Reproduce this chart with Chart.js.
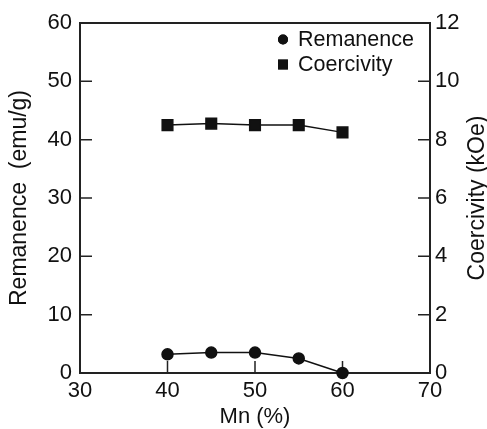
<!DOCTYPE html>
<html>
<head>
<meta charset="utf-8">
<script src="https://cdn.jsdelivr.net/npm/chart.js@4"></script>
<style>
  html, body { margin: 0; padding: 0; background: #fff; }
  #wrap { width: 487px; height: 429px; }
</style>
</head>
<body>
<div id="wrap"><canvas id="chart"></canvas></div>
<script>
// valeurs
const mnPercent = [40, 45, 50, 55, 60];
const remanence = [3.2, 3.5, 3.5, 2.5, 0];
const coercivity = [8.5, 8.55, 8.5, 8.5, 8.25];

const xTicks = [30, 40, 50, 60, 70];
const leftTicks = [0, 10, 20, 30, 40, 50, 60];
const rightTicks = [0, 2, 4, 6, 8, 10, 12];

const FONT = '"Liberation Sans", Arial, "Noto Sans CJK JP", sans-serif';
const INK = '#111';

// cadre + graduations vers l'intérieur
const frameAndTicks = {
    id: 'frameAndTicks',
    beforeDatasetsDraw(chart) {
        const { ctx, chartArea: a, scales } = chart;
        ctx.save();
        ctx.strokeStyle = '#222';
        ctx.lineWidth = 2;
        ctx.strokeRect(a.left, a.top, a.right - a.left, a.bottom - a.top);
        ctx.lineWidth = 1.5;
        ctx.beginPath();
        const len = 12;
        scales.x.ticks.forEach(t => {
            if (t.value <= scales.x.min || t.value >= scales.x.max) return;
            const px = scales.x.getPixelForValue(t.value);
            ctx.moveTo(px, a.bottom);
            ctx.lineTo(px, a.bottom - len);
        });
        scales.y.ticks.forEach(t => {
            if (t.value <= scales.y.min || t.value >= scales.y.max) return;
            const py = scales.y.getPixelForValue(t.value);
            ctx.moveTo(a.left, py);
            ctx.lineTo(a.left + len, py);
        });
        scales.y2.ticks.forEach(t => {
            if (t.value <= scales.y2.min || t.value >= scales.y2.max) return;
            const py = scales.y2.getPixelForValue(t.value);
            ctx.moveTo(a.right, py);
            ctx.lineTo(a.right - len, py);
        });
        ctx.stroke();
        ctx.restore();
    },
    afterDraw(chart) {
        const { ctx, chartArea: a } = chart;
        ctx.save();
        // titre de l'axe droit (lu de bas en haut)
        ctx.fillStyle = INK;
        ctx.font = '23px ' + FONT;
        ctx.textAlign = 'center';
        ctx.textBaseline = 'middle';
        ctx.translate(478, (a.top + a.bottom) / 2);
        ctx.rotate(-Math.PI / 2);
        ctx.fillText('Coercivity (kOe)', 0, 0);
        ctx.restore();

        // légende dans le graphique
        ctx.save();
        ctx.font = '21.5px ' + FONT;
        ctx.textAlign = 'left';
        ctx.textBaseline = 'middle';
        ctx.fillStyle = INK;
        chart.data.datasets.forEach((ds, i) => {
            const cx = 283, cy = 39.5 + i * 25;
            Chart.helpers.drawPoint(ctx, {
                pointStyle: ds.pointStyle,
                radius: ds.pointStyle === 'rect' ? 7 : 5,
                rotation: 0,
                borderWidth: 0
            }, cx, cy);
            ctx.fill();
            ctx.fillText(ds.label, 298, cy + 1);
        });
        ctx.restore();
    }
};

const ctx = document.getElementById('chart').getContext('2d');
new Chart(ctx, {
    type: 'line',
    data: {
        datasets: [{
            label: 'Remanence',
            data: mnPercent.map((x, i) => ({ x: x, y: remanence[i] })),
            yAxisID: 'y',
            borderColor: INK,
            backgroundColor: INK,
            borderWidth: 1.5,
            pointStyle: 'circle',
            pointRadius: 5.5,
            pointHoverRadius: 5.5,
            clip: false
        }, {
            label: 'Coercivity',
            data: mnPercent.map((x, i) => ({ x: x, y: coercivity[i] })),
            yAxisID: 'y2',
            borderColor: INK,
            backgroundColor: INK,
            borderWidth: 1.5,
            pointStyle: 'rect',
            pointRadius: 7.5,
            pointHoverRadius: 7.5,
            clip: false
        }]
    },
    options: {
        responsive: true,
        maintainAspectRatio: false,
        animation: false,
        layout: { padding: { top: 23, left: 0, right: 0, bottom: 0 } },
        plugins: {
            legend: { display: false },
            tooltip: { enabled: false }
        },
        scales: {
            x: {
                type: 'linear',
                min: 30, max: 70,
                afterBuildTicks: s => { s.ticks = xTicks.map(v => ({ value: v })); },
                afterFit: s => { s.height = 56; },
                grid: { display: false, drawTicks: false },
                border: { display: false },
                ticks: { color: INK, padding: 5, font: { family: FONT, size: 22 } },
                title: {
                    display: true, text: 'Mn (%)', color: INK,
                    font: { family: FONT, size: 22, lineHeight: 1 },
                    padding: { top: 0, bottom: 1 }
                }
            },
            y: {
                position: 'left',
                min: 0, max: 60,
                afterBuildTicks: s => { s.ticks = leftTicks.map(v => ({ value: v })); },
                afterFit: s => { s.width = 80; },
                grid: { display: false, drawTicks: false },
                border: { display: false },
                ticks: { color: INK, padding: 8, font: { family: FONT, size: 22 } },
                title: {
                    display: true, text: 'Remanence  (emu/g)', color: INK,
                    font: { family: FONT, size: 23, lineHeight: 1.2 },
                    padding: { top: 6, bottom: 6 }
                }
            },
            y2: {
                position: 'right',
                min: 0, max: 12,
                afterBuildTicks: s => { s.ticks = rightTicks.map(v => ({ value: v })); },
                afterFit: s => { s.width = 57; },
                grid: { display: false, drawTicks: false },
                border: { display: false },
                ticks: { color: INK, padding: 5, font: { family: FONT, size: 22 } }
            }
        }
    },
    plugins: [frameAndTicks]
});
</script>
</body>
</html>
